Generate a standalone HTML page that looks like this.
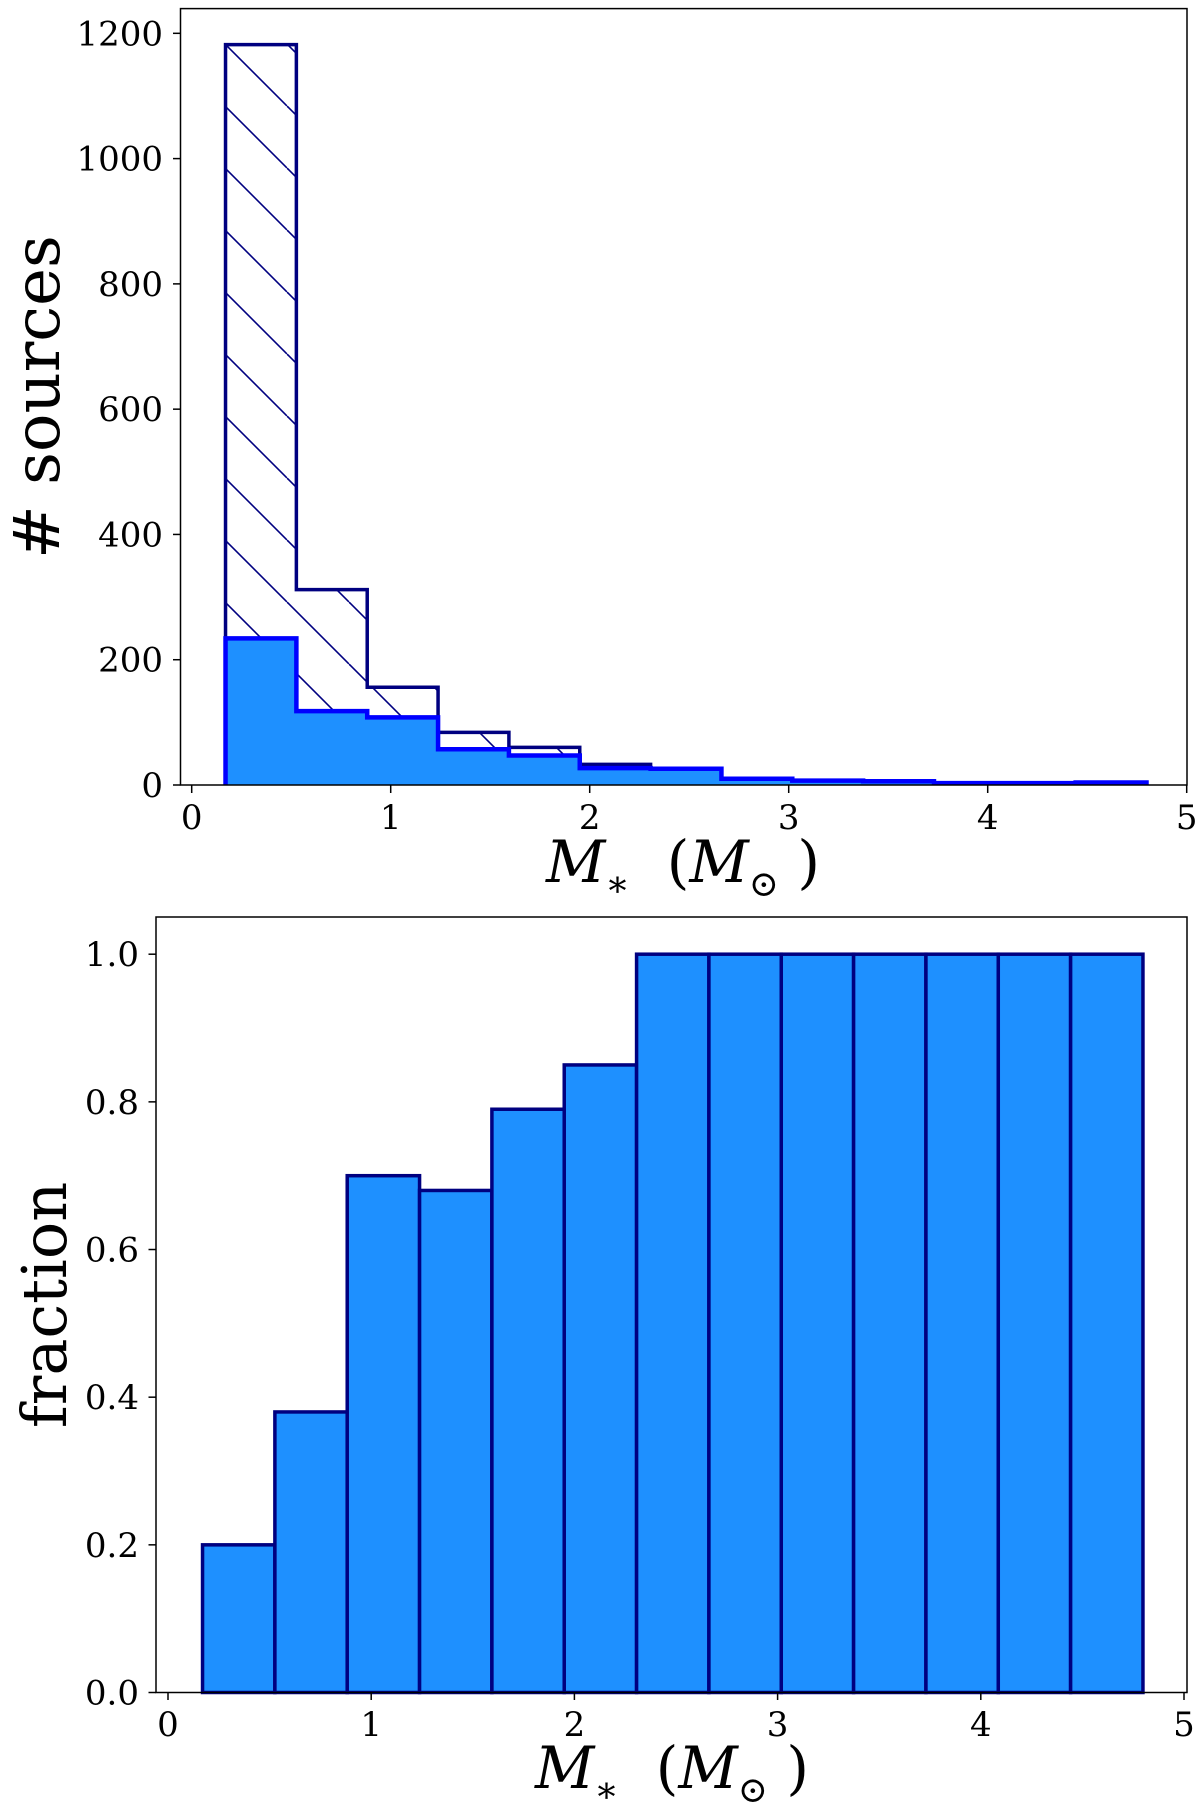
<!DOCTYPE html>
<html><head><meta charset="utf-8"><style>
html,body{margin:0;padding:0;background:#fff}
svg{display:block}
text{font-family:"DejaVu Serif","Liberation Serif",serif}
</style></head><body>
<svg id="chart" width="1200" height="1811" viewBox="0 0 1200 1811" xmlns="http://www.w3.org/2000/svg">
<defs>
<pattern id="hatch" patternUnits="userSpaceOnUse" width="62" height="62" x="225" y="44">
<line x1="0" y1="0" x2="62" y2="62" stroke="#000080" stroke-width="1.6"/>
<line x1="-62" y1="0" x2="0" y2="62" stroke="#000080" stroke-width="1.6"/>
<line x1="62" y1="0" x2="124" y2="62" stroke="#000080" stroke-width="1.6"/>
</pattern>
</defs>
<g id="topPanel"></g>
<g id="botPanel"></g>
</svg>
<script>
const binEdges = [0.17,0.526,0.882,1.238,1.594,1.95,2.306,2.662,3.018,3.374,3.73,4.086,4.442,4.798];
const totalCounts = [1182,312,156,84,60,33,26,10,7,6,3,3,4];
const detectedCounts = [234,118,108,57,47,27,26,10,7,6,3,3,4];
const fractionValues = [0.2,0.38,0.70,0.68,0.79,0.85,1,1,1,1,1,1,1];
const xTicks = [0,1,2,3,4,5];
const topYTicks = [0,200,400,600,800,1000,1200];
const botYTicks = [0.0,0.2,0.4,0.6,0.8,1.0];

const NS="http://www.w3.org/2000/svg";
function mk(tag,attrs,parent){const e=document.createElementNS(NS,tag);for(const k in attrs)e.setAttribute(k,attrs[k]);parent.appendChild(e);return e;}

const tx=v=>191.7+v*199.0;
const ty=v=>785-v*0.6264;
const bx=v=>168+v*203.2;
const by=v=>1692.5-v*738.3;

const topG=document.getElementById('topPanel');
const botG=document.getElementById('botPanel');
const TF=34;

function stepPath(edges,vals,X,Y){
  let d=`M${X(edges[0])},${Y(0)}`;
  for(let i=0;i<vals.length;i++){d+=` L${X(edges[i])},${Y(vals[i])} L${X(edges[i+1])},${Y(vals[i])}`;}
  d+=` L${X(edges[edges.length-1])},${Y(0)}`;
  return d;
}

let p=mk('path',{d:stepPath(binEdges,totalCounts,tx,ty),fill:'url(#hatch)',stroke:'none'},topG);


p=mk('path',{d:stepPath(binEdges,totalCounts,tx,ty),fill:'none',stroke:'#000080','stroke-width':3.5},topG);


p=mk('path',{d:stepPath(binEdges,detectedCounts,tx,ty),fill:'#1e90ff',stroke:'#0000ff','stroke-width':4.5},topG);



let r=mk('rect',{x:180.5,y:8.6,width:1006.5,height:776.4,fill:'none',stroke:'#000','stroke-width':1.5},topG);


xTicks.forEach(v=>{
  const l=mk('line',{x1:tx(v),x2:tx(v),y1:785,y2:793,stroke:'#000','stroke-width':1.5},topG);
  
  
  const t=mk('text',{x:tx(v),y:829,'text-anchor':'middle','font-size':TF},topG);t.textContent=v;
  
  
});
topYTicks.forEach(v=>{
  const l=mk('line',{x1:173,x2:180.5,y1:ty(v),y2:ty(v),stroke:'#000','stroke-width':1.5},topG);
  
  
  const t=mk('text',{x:163,y:ty(v)+12,'text-anchor':'end','font-size':TF},topG);t.textContent=v;
  
  
});
let t=mk('text',{x:0,y:0,'text-anchor':'middle','font-size':64,transform:'translate(59,397) rotate(-90)','font-family':'DejaVu Sans, sans-serif'},topG);
t.textContent='# sources';



function axisTitle(parent,x,y,name){
  const tt=mk('text',{x:x,y:y,'text-anchor':'middle','font-size':58},parent);
  const parts=[['M',{'font-style':'italic'}],['∗',{'font-size':36,dy:14}],['\u00a0\u00a0(',{dy:-14}],['M',{'font-style':'italic'}],['⊙',{'font-size':36,dy:14}],['\u00a0)',{dy:-14}]];
  parts.forEach(([s,a])=>{const sp=mk('tspan',a,tt);sp.textContent=s;});
  
  
}
axisTitle(topG,683,882,'top-x-axis-title');

fractionValues.forEach((v,i)=>{
  const x1=bx(binEdges[i]),x2=bx(binEdges[i+1]);
  const b=mk('rect',{x:x1,y:by(v),width:x2-x1,height:by(0)-by(v),fill:'#1e90ff',stroke:'#000080','stroke-width':3.5},botG);
  
  
});
r=mk('rect',{x:156,y:917,width:1031,height:775.5,fill:'none',stroke:'#000','stroke-width':1.5},botG);


xTicks.forEach(v=>{
  const l=mk('line',{x1:bx(v),x2:bx(v),y1:1692.5,y2:1700,stroke:'#000','stroke-width':1.5},botG);
  
  
  const tt=mk('text',{x:bx(v),y:1736,'text-anchor':'middle','font-size':TF},botG);tt.textContent=v;
  
  
});
botYTicks.forEach(v=>{
  const l=mk('line',{x1:148.5,x2:156,y1:by(v),y2:by(v),stroke:'#000','stroke-width':1.5},botG);
  
  
  const tt=mk('text',{x:139,y:by(v)+12,'text-anchor':'end','font-size':TF},botG);tt.textContent=v.toFixed(1);
  
  
});
t=mk('text',{x:0,y:0,'text-anchor':'middle','font-size':62,transform:'translate(66,1305) rotate(-90)'},botG);
t.textContent='fraction';


axisTitle(botG,672,1788,'bottom-x-axis-title');
</script>
</body></html>
